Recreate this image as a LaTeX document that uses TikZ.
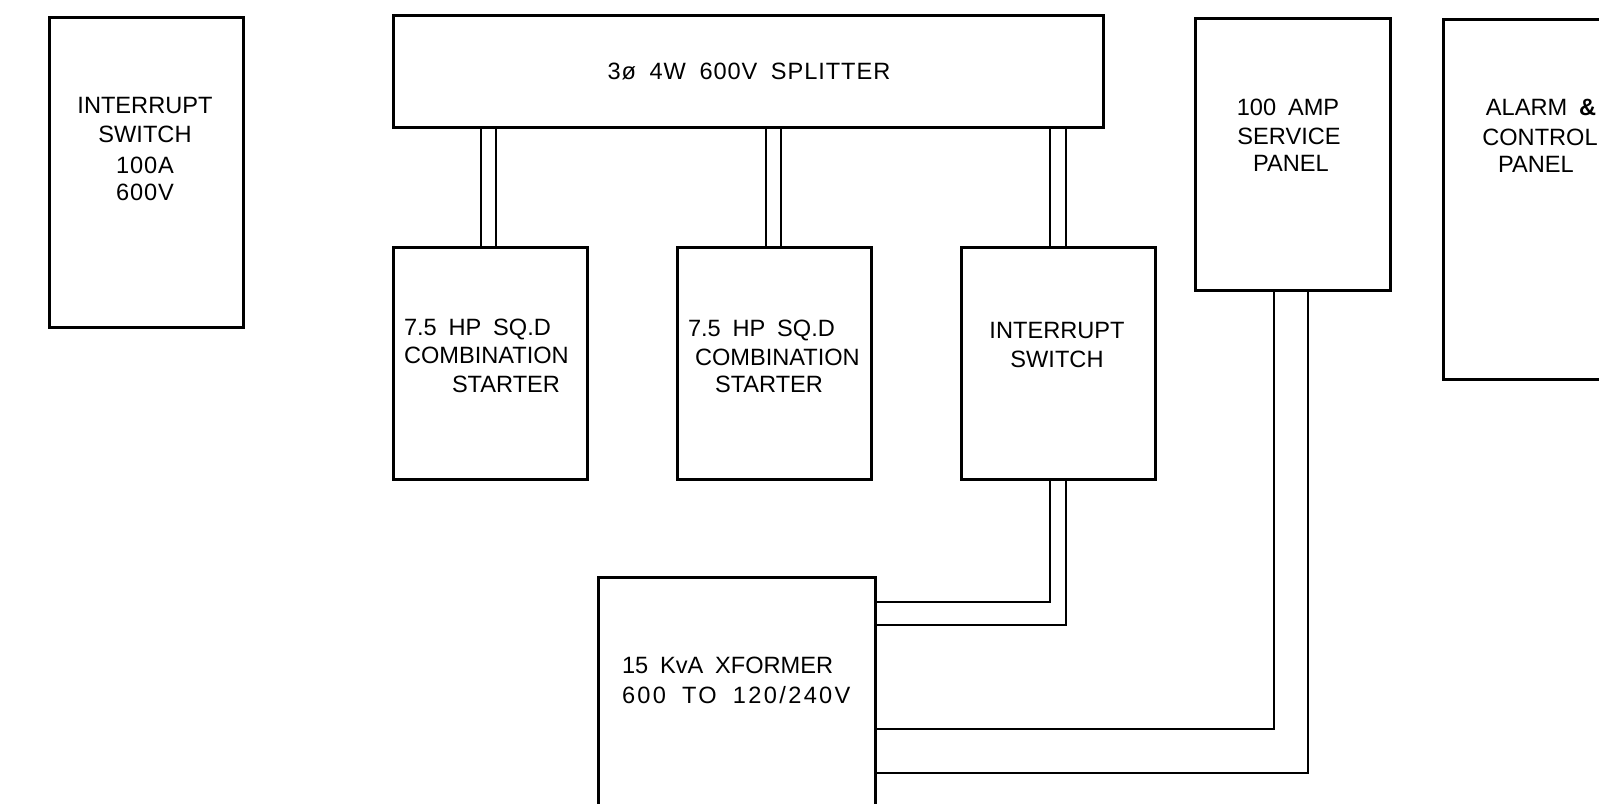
\documentclass[tikz,border=0pt]{standalone}
\usepackage{fontspec}
\setmainfont[WordSpace=1.8]{Liberation Sans}
\newfontfamily\spreadA[WordSpace=1.8,LetterSpace=4]{Liberation Sans}
\newfontfamily\spreadB[WordSpace=1.8,LetterSpace=10]{Liberation Sans}
\usetikzlibrary{calc}
\begin{document}
\begin{tikzpicture}[x=0.5pt,y=-0.5pt,
  box/.style={draw,line width=1.5pt,rectangle,inner sep=0pt,outer sep=0pt,anchor=north west},
  lbl/.style={inner sep=0pt,outer sep=0pt,font=\fontsize{11.8pt}{14pt}\selectfont},
  lblc/.style={lbl,anchor=base},
  lblw/.style={lbl,anchor=base west},
  wire/.style={line width=0.75pt}]
\useasboundingbox (0,0) rectangle (1599,803);
\clip (0,0) rectangle (1599,803);

% boxes
\node[box,minimum width=97pt,minimum height=155pt] (b1) at (49,17) {};
\node[box,minimum width=355pt,minimum height=56pt] (split) at (393,15) {};
\node[box,minimum width=97pt,minimum height=116pt] (s1) at (393,247) {};
\node[box,minimum width=97pt,minimum height=116pt] (s2) at (677,247) {};
\node[box,minimum width=97pt,minimum height=116pt] (sw2) at (961,247) {};
\node[box,minimum width=97.5pt,minimum height=136pt] (amp) at (1195,18) {};
\node[box,minimum width=150pt,minimum height=180pt] (alarm) at (1443,19) {};
\node[box,minimum width=138.5pt,minimum height=150pt] (xf) at (598,577) {};

% texts
\node[lblc] (b1a) at (145,113) {INTERRUPT};
\node[lblc] (b1b) at (145,142) {SWITCH};
\node[lblc] (b1c) at (145,173) {\spreadA 100A};
\node[lblc] (b1d) at (145,200) {\spreadA 600V};

\node[lblc] (spt) at (749,79) {\spreadA 3ø 4W 600V SPLITTER};

\node[lblw] (s1a) at (404,335) {7.5 HP SQ.D};
\node[lblw] (s1b) at (404,363) {COMBINATION};
\node[lblw] (s1c) at (452,392) {STARTER};

\node[lblw] (s2a) at (688,336) {7.5 HP SQ.D};
\node[lblw] (s2b) at (695,365) {COMBINATION};
\node[lblw] (s2c) at (715,392) {STARTER};

\node[lblc] (sw2a) at (1057,338) {INTERRUPT};
\node[lblc] (sw2b) at (1057,367) {SWITCH};

\node[lblc] (ampa) at (1288,115) {100 AMP};
\node[lblc] (ampb) at (1289,144) {SERVICE};
\node[lblc] (ampc) at (1291,171) {PANEL};

\node[lblc] (ala) at (1541,115) {ALARM \textbf{\&}};
\node[lblc] (alb) at (1540,145) {CONTROL};
\node[lblc] (alc) at (1536,172) {PANEL};

\node[lblw] (xfa) at (622,673) {15 KvA XFORMER};
\node[lblw] (xfb) at (622,703) {\spreadB 600 TO 120/240V};

% splitter feeders (double lines)
\draw[wire] ($(s1.north)+(-9,0)$) coordinate (p1) -- (p1 |- split.south);
\draw[wire] ($(s1.north)+(6,0)$) coordinate (p2) -- (p2 |- split.south);
\draw[wire] ($(s2.north)+(-8,0)$) coordinate (p3) -- (p3 |- split.south);
\draw[wire] ($(s2.north)+(7,0)$) coordinate (p4) -- (p4 |- split.south);
\draw[wire] ($(sw2.north)+(-8,0)$) coordinate (p5) -- (p5 |- split.south);
\draw[wire] ($(sw2.north)+(8,0)$) coordinate (p6) -- (p6 |- split.south);

% interrupt switch to transformer
\draw[wire] ($(sw2.south)+(-8,0)$) |- ($(xf.north east)+(0,25)$);
\draw[wire] ($(sw2.south)+(8,0)$) |- ($(xf.north east)+(0,48)$);

% transformer to service panel
\draw[wire] ($(amp.south)+(-18.5,0)$) |- ($(xf.north east)+(0,152)$);
\draw[wire] ($(amp.south)+(15.5,0)$) |- ($(xf.north east)+(0,196)$);
\end{tikzpicture}
\end{document}
